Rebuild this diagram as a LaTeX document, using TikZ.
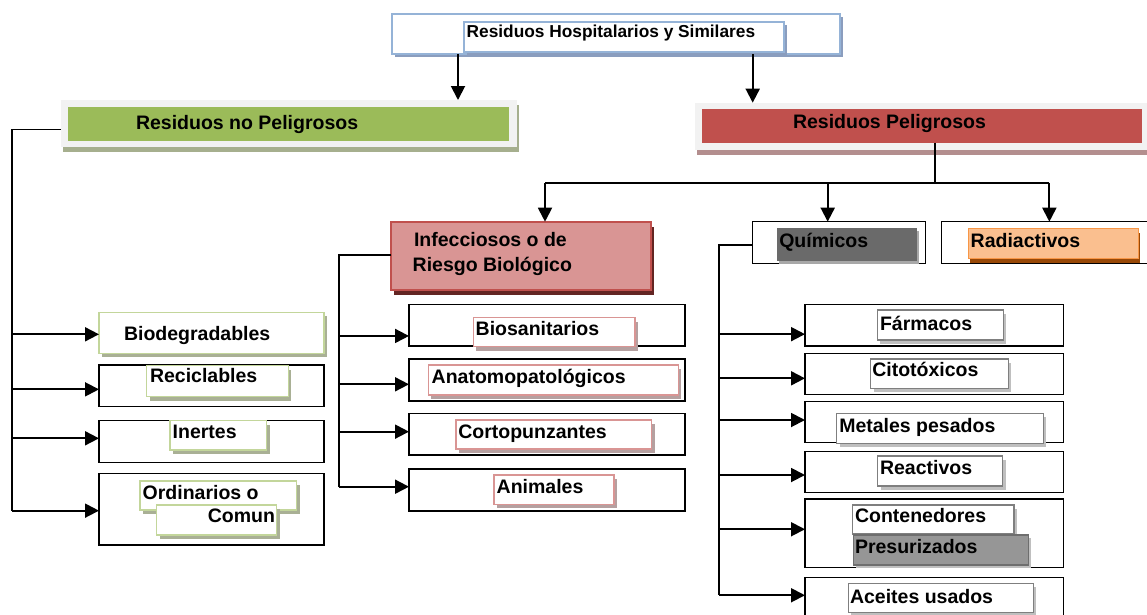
\documentclass[tikz,border=0pt]{standalone}
\usepackage{fontspec}
\setmainfont{Liberation Sans}
\usetikzlibrary{arrows.meta,shadows,calc}
\definecolor{titleblue}{HTML}{95B3D7}
\definecolor{titleshadow}{HTML}{8A9DBE}
\definecolor{framegray}{HTML}{F2F2F2}
\definecolor{rnpgreen}{HTML}{9BBB59}
\definecolor{rnpshadow}{HTML}{A6AF8E}
\definecolor{rpred}{HTML}{C0504D}
\definecolor{rpshadow}{HTML}{B38E8E}
\definecolor{lgreen}{HTML}{C3D69B}
\definecolor{gshadow}{HTML}{A9B095}
\definecolor{pinkb}{HTML}{D99594}
\definecolor{pshadow}{HTML}{B5A0A0}
\definecolor{grayb}{HTML}{7F7F7F}
\definecolor{kshadow}{HTML}{BFBFBF}
\definecolor{quifill}{HTML}{6A6A6A}
\definecolor{quishadow}{HTML}{A8A8A8}
\definecolor{radfill}{HTML}{FABF8F}
\definecolor{radborder}{HTML}{F79646}
\definecolor{radshadow}{HTML}{984806}
\definecolor{infshadow}{HTML}{632523}
\definecolor{presfill}{HTML}{969696}
\definecolor{presborder}{HTML}{6E6E6E}
\newcommand{\bx}[6]{\node[#1,minimum width={#5-#3},minimum height={#6-#4}] (#2) at ({(#3+#5)/2},{(#4+#6)/2}) {};}
\begin{document}
\begin{tikzpicture}[x=1pt,y=-1pt,
  box/.style={rectangle,inner sep=0pt,outer sep=0pt},
  titlebox/.style={box,draw=titleblue,line width=1.6pt,fill=white,
    drop shadow={shadow xshift=3pt,shadow yshift=-3pt,fill=titleshadow,opacity=1}},
  gframe/.style={box,fill=framegray,
    drop shadow={shadow xshift=2pt,shadow yshift=-5pt,fill=#1,opacity=1}},
  greenfill/.style={box,fill=rnpgreen},
  redfill/.style={box,fill=rpred},
  infbox/.style={box,fill=pinkb,draw=rpred,line width=1.6pt,
    drop shadow={shadow xshift=3pt,shadow yshift=-5pt,fill=infshadow,opacity=1}},
  obox/.style={box,draw=black,line width=1.2pt,fill=white},
  gbox/.style={box,draw=lgreen,line width=1.5pt,fill=white,
    drop shadow={shadow xshift=3pt,shadow yshift=-4pt,fill=gshadow,opacity=1}},
  pbox/.style={box,draw=pinkb,line width=1.5pt,fill=white,
    drop shadow={shadow xshift=3pt,shadow yshift=-4pt,fill=pshadow,opacity=1}},
  kbox/.style={box,draw=grayb,line width=1.5pt,fill=white,
    drop shadow={shadow xshift=3pt,shadow yshift=-4pt,fill=kshadow,opacity=1}},
  quibox/.style={box,fill=quifill,
    drop shadow={shadow xshift=2pt,shadow yshift=-3pt,fill=quishadow,opacity=1}},
  radbox/.style={box,fill=radfill,draw=radborder,line width=1.5pt,
    drop shadow={shadow xshift=2pt,shadow yshift=-5pt,fill=radshadow,opacity=1}},
  presbox/.style={box,fill=presfill,draw=presborder,line width=1.5pt,
    drop shadow={shadow xshift=3pt,shadow yshift=-3pt,fill=kshadow,opacity=1}},
  txt/.style={inner sep=0pt,outer sep=0pt,anchor=base west,font=\bfseries\fontsize{19.5pt}{23pt}\selectfont},
  ttl/.style={txt,font=\bfseries\fontsize{17.3pt}{20pt}\selectfont},
  ln/.style={line width=1.6pt},
  arr/.style={line width=1.9pt,-{Triangle[length=14pt,width=14pt]}}]
\useasboundingbox (0,0) rectangle (1147,614);
\clip (0,0) rectangle (1147,614);
% title
\bx{titlebox}{title}{392}{14}{840}{54}
\bx{titlebox}{titlein}{464}{21.7}{784}{51.7}
\node[ttl] (t0) at (466.7,37.7) {Residuos Hospitalarios y Similares};
% Residuos no Peligrosos
\bx{gframe=rnpshadow}{rnpf}{61}{100}{517}{147.3}
\bx{greenfill}{rnp}{68}{106.7}{509}{140.7}
\node[txt] (t1) at (136,129.3) {Residuos no Peligrosos};
% Residuos Peligrosos
\bx{gframe=rpshadow}{rpf}{695}{102.7}{1160}{150}
\bx{redfill}{rp}{701.7}{109.3}{1141.7}{142.7}
\node[txt] (t2) at (793,128.5) {Residuos Peligrosos};
% Infecciosos
\bx{infbox}{inf}{391}{221.7}{651}{290}
\node[txt] (t3a) at (414,246.3) {Infecciosos o de};
\node[txt] (t3b) at (412.7,271.7) {Riesgo Biológico};
% Quimicos
\bx{obox}{qui}{752.7}{221.7}{925.7}{263.3}
\bx{quibox}{quiin}{776.7}{227.7}{916.7}{260.7}
\node[txt] (t4) at (779.3,247.3) {Químicos};
% Radiactivos
\bx{obox}{rad}{941.7}{221.7}{1170}{263.3}
\bx{radbox}{radin}{968.3}{228.3}{1138.3}{258.3}
\node[txt] (t5) at (970.7,247.3) {Radiactivos};
% left column
\bx{gbox}{bio}{99}{312.3}{324}{353.3}
\node[txt] (t6) at (124,340.7) {Biodegradables};
\bx{obox}{rec}{99}{365}{324}{406.7}
\bx{gbox}{recin}{146.7}{365.7}{288.3}{396.7}
\node[txt] (t7) at (150,382.7) {Reciclables};
\bx{obox}{ine}{99}{420.7}{324}{462.3}
\bx{gbox}{inein}{170}{420.7}{266.7}{450}
\node[txt] (t8) at (172.7,438.3) {Inertes};
\bx{obox}{ord}{99}{473.3}{324}{545}
\bx{gbox}{ordin}{140}{481}{296.7}{510}
\bx{gbox}{ordinb}{156.7}{505}{276.7}{535}
\node[txt] (t9a) at (142.7,499) {Ordinarios o};
\node[txt,anchor=base east] (t9b) at (275,522.7) {Comun};
% middle column
\bx{obox}{bsn}{409}{304.3}{685}{346}
\bx{pbox}{bsnin}{473.3}{317.7}{635}{346.7}
\node[txt] (t10) at (475.7,335) {Biosanitarios};
\bx{obox}{ana}{409}{359}{685}{401}
\bx{pbox}{anain}{428.3}{365}{678.3}{395}
\node[txt] (t11) at (431.7,383.3) {Anatomopatológicos};
\bx{obox}{cor}{409}{413.3}{685}{455}
\bx{pbox}{corin}{456}{420}{651.7}{449}
\node[txt] (t12) at (458.3,438.3) {Cortopunzantes};
\bx{obox}{ani}{409}{469}{685}{511}
\bx{pbox}{aniin}{494}{475}{614}{504.3}
\node[txt] (t13) at (496.7,493.3) {Animales};
% right column
\bx{obox}{far}{805}{304.3}{1063.3}{346}
\bx{kbox}{farin}{877.3}{310}{1003.3}{340}
\node[txt] (t14) at (880,330) {Fármacos};
\bx{obox}{cit}{805}{353.3}{1063.3}{394.3}
\bx{kbox}{citin}{870.7}{359}{1008.3}{388.3}
\node[txt] (t15) at (872.3,376.7) {Citotóxicos};
\bx{obox}{met}{805}{401.7}{1063.3}{442.7}
\bx{kbox}{metin}{836.7}{413.3}{1043.3}{443.3}
\node[txt] (t16) at (839.3,432.7) {Metales pesados};
\bx{obox}{rea}{805}{451.7}{1063.3}{492.7}
\bx{kbox}{reain}{877.7}{456}{1002.7}{486}
\node[txt] (t17) at (880,474.3) {Reactivos};
\bx{obox}{con}{805}{499}{1063.3}{567.3}
\bx{kbox}{conin}{852.7}{505}{1014}{534}
\bx{presbox}{coninb}{853.3}{535}{1028.3}{565}
\node[txt] (t18a) at (855,522.7) {Contenedores};
\node[txt] (t18b) at (855,553.3) {Presurizados};
\bx{obox}{ace}{805}{577.5}{1063.3}{625}
\bx{kbox}{acein}{848.3}{583.3}{1033.3}{612.5}
\node[txt] (t19) at (850,603.3) {Aceites usados};
% connectors: title
\coordinate (a1) at (458,100);
\coordinate (a2) at (752.7,102.7);
\draw[arr] (a1 |- title.south) -- (a1);
\draw[arr] (a2 |- title.south) -- (a2);
% left trunk
\coordinate (jL) at (12,129.3);
\coordinate (aBio) at ($(bio.west)+(0,1.5)$);
\coordinate (aRec) at ($(rec.west)+(0,3.5)$);
\coordinate (aIne) at ($(ine.west)+(0,-3.2)$);
\coordinate (aOrd) at ($(ord.west)+(0,1.5)$);
\draw[ln] (jL -| rnpf.west) -- (jL) -- (jL |- aOrd);
\draw[arr] (jL |- aBio) -- (aBio);
\draw[arr] (jL |- aRec) -- (aRec);
\draw[arr] (jL |- aIne) -- (aIne);
\draw[arr] (jL |- aOrd) -- (aOrd);
% peligrosos trunk
\coordinate (jR) at (935,182.7);
\coordinate (aInf) at ($(inf.north)+(24,0)$);
\coordinate (aQui) at ($(qui.north)+(-11.5,0)$);
\coordinate (aRad) at ($(rad.north)+(-6.5,0)$);
\draw[ln] (jR |- rp.south) -- (jR);
\draw[ln] (aInf |- jR) -- (aRad |- jR);
\draw[arr] (aInf |- jR) -- (aInf);
\draw[arr] (aQui |- jR) -- (aQui);
\draw[arr] (aRad |- jR) -- (aRad);
% infecciosos trunk
\coordinate (jM) at (339,255);
\coordinate (aBsn) at ($(bsn.west)+(0,10.8)$);
\coordinate (aAna) at ($(ana.west)+(0,4.3)$);
\coordinate (aCor) at ($(cor.west)+(0,-2.5)$);
\coordinate (aAni) at ($(ani.west)+(0,-3.3)$);
\draw[ln] (jM -| inf.west) -- (jM) -- (jM |- aAni);
\draw[arr] (jM |- aBsn) -- (aBsn);
\draw[arr] (jM |- aAna) -- (aAna);
\draw[arr] (jM |- aCor) -- (aCor);
\draw[arr] (jM |- aAni) -- (aAni);
% quimicos trunk
\coordinate (jQ) at (719,245);
\coordinate (aFar) at ($(far.west)+(0,9)$);
\coordinate (aCit) at ($(cit.west)+(0,4.5)$);
\coordinate (aMet) at ($(met.west)+(0,-2.2)$);
\coordinate (aRea) at ($(rea.west)+(0,2.8)$);
\coordinate (aCon) at ($(con.west)+(0,-3.9)$);
\coordinate (aAce) at ($(ace.west)+(0,-6)$);
\draw[ln] (jQ -| qui.west) -- (jQ) -- (jQ |- aAce);
\draw[arr] (jQ |- aFar) -- (aFar);
\draw[arr] (jQ |- aCit) -- (aCit);
\draw[arr] (jQ |- aMet) -- (aMet);
\draw[arr] (jQ |- aRea) -- (aRea);
\draw[arr] (jQ |- aCon) -- (aCon);
\draw[arr] (jQ |- aAce) -- (aAce);
\end{tikzpicture}
\end{document}
